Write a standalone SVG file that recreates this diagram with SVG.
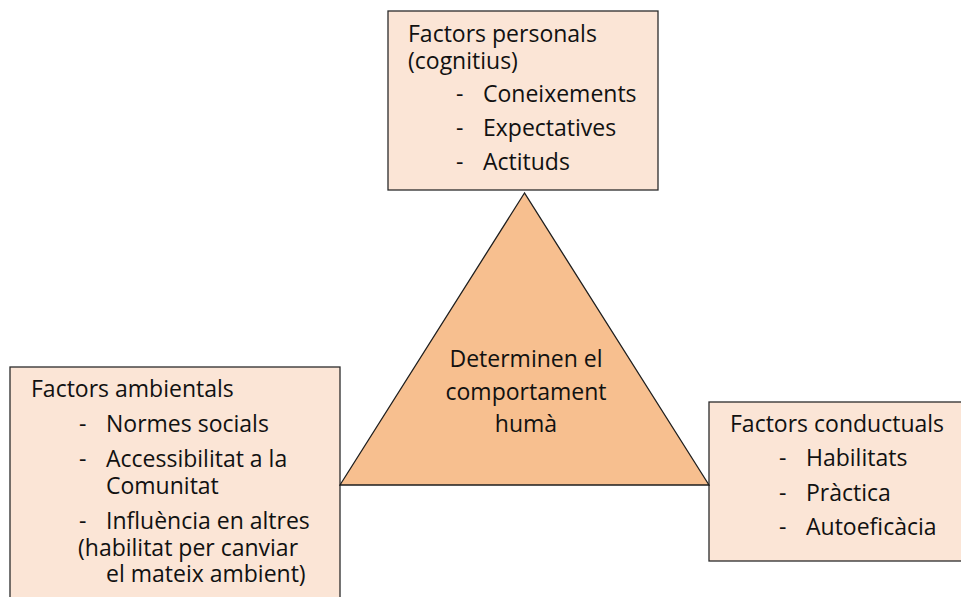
<svg xmlns="http://www.w3.org/2000/svg" width="961" height="597" viewBox="0 0 961 597">
  <style>
    .box { fill: #FBE5D6; stroke: #2b2b2b; stroke-width: 1.3; }
    .tri { fill: #F7BF8F; stroke: #1e1e1e; stroke-width: 1.3; stroke-linejoin: miter; }
    text { font-family: "Open Sans", "Noto Sans", "Liberation Sans", sans-serif; font-size: 23px; fill: #111; }
    .c { text-anchor: middle; }
  </style>
  <rect width="961" height="597" fill="#ffffff"/>

  <!-- personal (cognitive) factors -->
  <g id="personal">
    <rect class="box" x="388" y="11" width="270" height="179"/>
    <text x="408" y="42">Factors personals</text>
    <text x="408" y="69">(cognitius)</text>
    <text x="456" y="102">-</text><text x="483" y="102">Coneixements</text>
    <text x="456" y="136">-</text><text x="483" y="136">Expectatives</text>
    <text x="456" y="170">-</text><text x="483" y="170">Actituds</text>
  </g>

  <!-- environmental factors -->
  <g id="ambiental">
    <rect class="box" x="10" y="367" width="330" height="240"/>
    <text x="31" y="397">Factors ambientals</text>
    <text x="79" y="432">-</text><text x="106" y="432">Normes socials</text>
    <text x="79" y="467">-</text><text x="106" y="467">Accessibilitat a la</text>
    <text x="106" y="494">Comunitat</text>
    <text x="79" y="529">-</text><text x="106" y="529">Influència en altres</text>
    <text x="78" y="556">(habilitat per canviar</text>
    <text x="106" y="582">el mateix ambient)</text>
  </g>

  <!-- behavioural factors -->
  <g id="conductual">
    <rect class="box" x="709" y="402" width="262" height="159"/>
    <text x="730" y="432">Factors conductuals</text>
    <text x="779" y="466">-</text><text x="806" y="466">Habilitats</text>
    <text x="779" y="501">-</text><text x="806" y="501">Pràctica</text>
    <text x="779" y="535">-</text><text x="806" y="535">Autoeficàcia</text>
  </g>

  <!-- central triangle -->
  <g id="comportament">
    <polygon class="tri" points="524.5,193 340,485 709,485"/>
    <text class="c" x="526" y="367">Determinen el</text>
    <text class="c" x="526" y="400">comportament</text>
    <text class="c" x="526" y="432">humà</text>
  </g>

  <g id="connectors"></g>
</svg>
